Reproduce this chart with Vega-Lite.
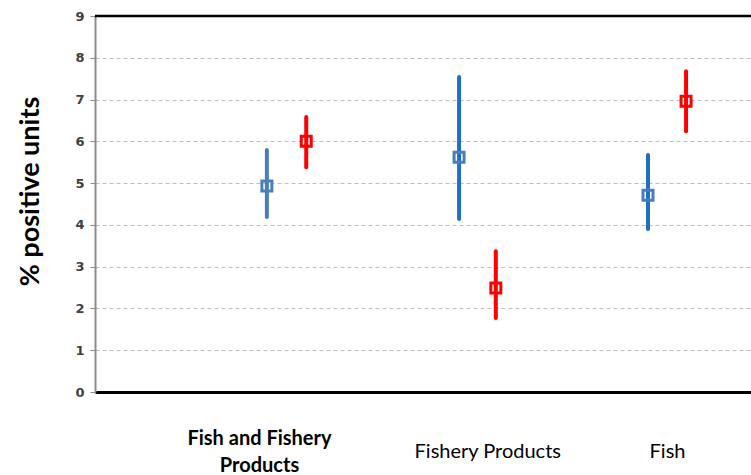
{
  "$schema": "https://vega.github.io/schema/vega-lite/v6.json",
  "width": 656,
  "height": 376,
  "autosize": "none",
  "padding": {"left": 95, "top": 16, "right": 0, "bottom": 83},
  "background": "white",
  "config": {"view": {"stroke": null}},
  "data": {
    "values": [
      {"group": "Fish and Fishery Products", "series": "A", "key": "FFP-A", "pos": 26.2, "mean": 4.93, "lo": 4.19, "hi": 5.79},
      {"group": "Fish and Fishery Products", "series": "B", "key": "FFP-B", "pos": 32.2, "mean": 6.0, "lo": 5.38, "hi": 6.58},
      {"group": "Fishery Products", "series": "A", "key": "FP-A", "pos": 55.5, "mean": 5.62, "lo": 4.14, "hi": 7.54},
      {"group": "Fishery Products", "series": "B", "key": "FP-B", "pos": 61.1, "mean": 2.49, "lo": 1.77, "hi": 3.37},
      {"group": "Fish", "series": "A", "key": "F-A", "pos": 84.3, "mean": 4.71, "lo": 3.9, "hi": 5.67},
      {"group": "Fish", "series": "B", "key": "F-B", "pos": 90.1, "mean": 6.96, "lo": 6.24, "hi": 7.68}
    ]
  },
  "layer": [
    {
      "mark": {"type": "rule", "strokeWidth": 4, "strokeCap": "round"},
      "encoding": {
        "x": {
          "field": "pos", "type": "quantitative",
          "scale": {"domain": [0, 100], "nice": false},
          "axis": {
            "values": [25, 59.8, 87.2],
            "title": null,
            "grid": false,
            "ticks": false,
            "domainColor": "black",
            "domainWidth": 3,
            "labelExpr": "datum.value < 40 ? ['Fish and Fishery', 'Products'] : (datum.value < 70 ? 'Fishery Products' : 'Fish')",
            "labelFont": "Lato",
            "labelFontSize": 20,
            "labelColor": "black",
            "labelFontWeight": {"condition": {"test": "datum.value < 40", "value": "bold"}, "value": "normal"},
            "labelBaseline": "middle",
            "labelPadding": {"condition": {"test": "datum.value < 40", "value": 46}, "value": 59},
            "labelLineHeight": 27,
            "labelFlush": false,
            "labelOverlap": false
          }
        },
        "y": {
          "field": "lo", "type": "quantitative",
          "scale": {"domain": [0, 9], "nice": false},
          "axis": {
            "values": [0, 1, 2, 3, 4, 5, 6, 7, 8, 9],
            "title": "% positive units",
            "titleFont": "Lato",
            "titleFontSize": 27,
            "titleFontWeight": "bold",
            "titleColor": "black",
            "titleX": -65,
            "titleY": 175,
            "titleAngle": -90,
            "titleAlign": "center",
            "titleBaseline": "middle",
            "labelFont": "DejaVu Sans",
            "labelFontWeight": "bold",
            "labelFontSize": 13,
            "labelColor": "#404040",
            "labelPadding": 6,
            "tickColor": "#8c8c8c",
            "tickSize": 5,
            "domainColor": "#8c8c8c",
            "domainWidth": 2,
            "grid": true,
            "gridColor": "#bdbdbd",
            "gridDash": [4, 3],
            "gridWidth": 1
          }
        },
        "y2": {"field": "hi"},
        "color": {
          "field": "key", "type": "nominal",
          "scale": {
            "domain": ["FFP-A", "FFP-B", "FP-A", "FP-B", "F-A", "F-B"],
            "range": ["#4a7ebb", "#ff0000", "#1f6fc6", "#ff0000", "#1f6fc6", "#ff0000"]
          },
          "legend": null
        }
      }
    },
    {
      "mark": {"type": "point", "shape": "square", "filled": false, "size": 100, "strokeWidth": 3, "opacity": 1},
      "encoding": {
        "x": {"field": "pos", "type": "quantitative"},
        "y": {"field": "mean", "type": "quantitative"},
        "stroke": {
          "field": "series", "type": "nominal",
          "scale": {"domain": ["A", "B"], "range": ["#4a7ebb", "#ff0000"]},
          "legend": null
        }
      }
    },
    {
      "data": {"values": [{"top": 9}]},
      "mark": {"type": "rule", "color": "black", "strokeWidth": 2.5},
      "encoding": {"y": {"field": "top", "type": "quantitative"}}
    }
  ]
}
